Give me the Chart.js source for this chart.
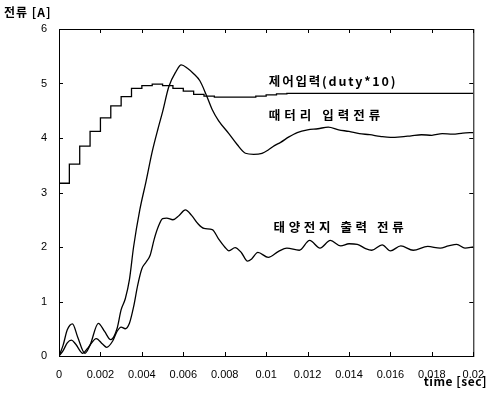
<!DOCTYPE html>
<html>
<head>
<meta charset="utf-8">
<script src="https://cdn.jsdelivr.net/npm/chart.js@4/dist/chart.umd.min.js"></script>
<style>
  body { margin: 0; background: #fff; }
</style>
</head>
<body>
<canvas id="currentChart" width="488" height="394"></canvas>
<script>
// tick labels
const xTickLabels = ['0', '0.002', '0.004', '0.006', '0.008', '0.01', '0.012', '0.014', '0.016', '0.018', '0.02'];
const yTickLabels = ['0', '1', '2', '3', '4', '5', '6'];

// control input (duty*10), stepped
const controlTime = [0, 0.0005, 0.001, 0.0015, 0.002, 0.0025, 0.003, 0.0035, 0.004, 0.0045,
  0.005, 0.0055, 0.006, 0.0065, 0.007, 0.0075, 0.009, 0.0095, 0.01, 0.0105, 0.011, 0.02];
const control = [3.17, 3.52, 3.85, 4.12, 4.37, 4.59, 4.76, 4.91, 4.96, 4.99,
  4.96, 4.91, 4.86, 4.80, 4.77, 4.75, 4.75, 4.77, 4.79, 4.81, 4.82, 4.82];

// battery input current
const batteryTime = [0, 0.0002, 0.0004, 0.00065, 0.0009, 0.00125, 0.0015, 0.0019, 0.0022, 0.0025,
  0.0028, 0.003, 0.0032, 0.0034, 0.0036, 0.0039, 0.0042, 0.0045, 0.0048, 0.005,
  0.0053, 0.00565, 0.0059, 0.0062, 0.0065, 0.0068, 0.0071, 0.0074, 0.0077, 0.0082,
  0.0086, 0.009, 0.0094, 0.0098, 0.0101, 0.0104, 0.0107, 0.0111, 0.0115, 0.012,
  0.0125, 0.013, 0.0135, 0.014, 0.0145, 0.015, 0.0155, 0.016, 0.0165, 0.017,
  0.0175, 0.018, 0.0185, 0.019, 0.0195, 0.02];
const battery = [0, 0.2, 0.48, 0.59, 0.35, 0.05, 0.2, 0.6, 0.45, 0.3,
  0.5, 0.85, 1.05, 1.4, 2.0, 2.68, 3.2, 3.75, 4.2, 4.48,
  4.94, 5.22, 5.34, 5.28, 5.18, 5.05, 4.8, 4.52, 4.32, 4.08,
  3.88, 3.72, 3.7, 3.72, 3.78, 3.86, 3.92, 4.02, 4.1, 4.15,
  4.17, 4.2, 4.15, 4.12, 4.08, 4.06, 4.03, 4.01, 4.02, 4.04,
  4.06, 4.05, 4.08, 4.07, 4.09, 4.1];

// solar cell output current
const solarTime = [0, 0.0002, 0.0004, 0.0006, 0.0008, 0.00115, 0.0014, 0.0018, 0.0021, 0.0023,
  0.0026, 0.0028, 0.003, 0.0032, 0.0034, 0.0036, 0.0038, 0.004, 0.0042, 0.0044,
  0.0046, 0.0048, 0.005, 0.0052, 0.0055, 0.0058, 0.0061, 0.0064, 0.0067, 0.007,
  0.0074, 0.0077, 0.008, 0.0082, 0.0085, 0.0088, 0.0091, 0.0093, 0.0096, 0.0101,
  0.0106, 0.011, 0.0116, 0.0121, 0.0126, 0.0131, 0.0136, 0.014, 0.0144, 0.0148,
  0.0151, 0.0156, 0.016, 0.0165, 0.0171, 0.0178, 0.0184, 0.0188, 0.0192, 0.0196, 0.02];
const solar = [0, 0.1, 0.24, 0.29, 0.22, 0.05, 0.15, 0.32, 0.22, 0.16,
  0.28, 0.45, 0.53, 0.5, 0.6, 0.9, 1.3, 1.6, 1.72, 1.85,
  2.15, 2.38, 2.52, 2.53, 2.5, 2.58, 2.68, 2.58, 2.43, 2.34,
  2.32, 2.15, 2.0, 1.93, 1.99, 1.9, 1.74, 1.78, 1.9, 1.81,
  1.92, 1.98, 1.94, 2.12, 1.98, 2.12, 2.02, 2.06, 2.05, 1.97,
  1.94, 2.04, 1.93, 2.02, 1.94, 2.01, 1.98, 2.02, 2.05, 1.98, 2.0];

// series labels (drawn beside the curves)
const controlLabel = '제어입력(duty*10)';
const batteryLabel = '때터리 입력전류';
const solarLabel = '태양전지 출력 전류';

const toPoints = (ts, vs) => ts.map((t, i) => ({ x: t, y: vs[i] }));

const tickFont = { family: 'Liberation Sans, Arial, sans-serif', size: 11 };
const boldFont = '"Noto Sans CJK KR", sans-serif';

// frame, inward ticks and text labels
const framePlugin = {
  id: 'frame',
  afterDraw(chart) {
    const { ctx, chartArea: a, scales } = chart;
    ctx.save();
    ctx.strokeStyle = '#000';
    ctx.lineWidth = 1;
    ctx.strokeRect(a.left + 0.5, a.top + 0.5, a.right - a.left, a.bottom - a.top);
    ctx.beginPath();
    scales.x.ticks.forEach(t => {
      const px = Math.round(scales.x.getPixelForValue(t.value)) + 0.5;
      ctx.moveTo(px, a.bottom); ctx.lineTo(px, a.bottom - 4);
      ctx.moveTo(px, a.top); ctx.lineTo(px, a.top + 4);
    });
    scales.y.ticks.forEach(t => {
      const py = Math.round(scales.y.getPixelForValue(t.value)) + 0.5;
      ctx.moveTo(a.left, py); ctx.lineTo(a.left + 4, py);
      ctx.moveTo(a.right, py); ctx.lineTo(a.right - 4, py);
    });
    ctx.stroke();

    ctx.fillStyle = '#000';
    ctx.textBaseline = 'middle';
    ctx.font = 'bold 12px ' + boldFont;
    ctx.textAlign = 'left';
    ctx.letterSpacing = '1px';
    ctx.fillText('전류 [A]', 4, 12);
    ctx.textAlign = 'right';
    ctx.letterSpacing = '0.5px';
    ctx.fillText('time [sec]', 487, 381);

    ctx.textAlign = 'left';
    ctx.font = 'bold 12.5px ' + boldFont;
    ctx.letterSpacing = '1.8px';
    const x = scales.x, y = scales.y;
    ctx.fillText(controlLabel, x.getPixelForValue(0.01013), y.getPixelForValue(5.05));
    ctx.letterSpacing = '4px';
    ctx.fillText(batteryLabel, x.getPixelForValue(0.01013), y.getPixelForValue(4.42));
    ctx.letterSpacing = '3.6px';
    ctx.fillText(solarLabel, x.getPixelForValue(0.01036), y.getPixelForValue(2.37));
    ctx.restore();
  }
};

new Chart(document.getElementById('currentChart'), {
  type: 'line',
  data: {
    datasets: [
      {
        label: controlLabel,
        data: toPoints(controlTime, control),
        stepped: 'before',
        borderColor: '#000',
        borderWidth: 1.3,
        pointRadius: 0
      },
      {
        label: batteryLabel,
        data: toPoints(batteryTime, battery),
        borderColor: '#000',
        borderWidth: 1.3,
        tension: 0.4,
        cubicInterpolationMode: 'monotone',
        pointRadius: 0
      },
      {
        label: solarLabel,
        data: toPoints(solarTime, solar),
        borderColor: '#000',
        borderWidth: 1.3,
        tension: 0.4,
        cubicInterpolationMode: 'monotone',
        pointRadius: 0
      }
    ]
  },
  options: {
    responsive: false,
    animation: false,
    layout: { padding: { top: 29, right: 12, left: 0, bottom: 0 } },
    plugins: {
      legend: { display: false },
      tooltip: { enabled: false }
    },
    scales: {
      x: {
        type: 'linear',
        min: 0,
        max: 0.02,
        grid: { display: false },
        border: { display: false },
        afterBuildTicks: s => { s.ticks = xTickLabels.map(l => ({ value: parseFloat(l) })); },
        afterFit: s => { s.height = 38; },
        ticks: {
          color: '#000',
          font: tickFont,
          padding: 4,
          maxRotation: 0,
          autoSkip: false,
          callback: (v, i) => xTickLabels[i]
        }
      },
      y: {
        min: 0,
        max: 6,
        grid: { display: false },
        border: { display: false },
        afterBuildTicks: s => { s.ticks = yTickLabels.map(l => ({ value: parseFloat(l) })); },
        afterFit: s => { s.width = 59; },
        ticks: {
          color: '#000',
          font: tickFont,
          padding: 4,
          callback: (v, i) => yTickLabels[i]
        }
      }
    }
  },
  plugins: [framePlugin]
});
</script>
</body>
</html>
